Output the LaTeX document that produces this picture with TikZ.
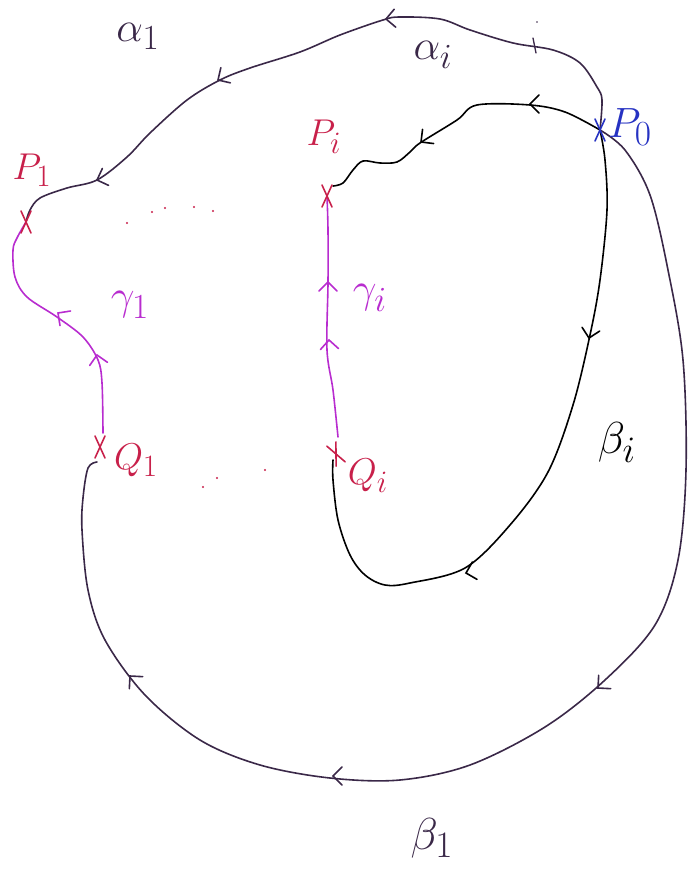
\documentclass[tikz,border=0pt]{standalone}
\usepackage{graphicx}
\usetikzlibrary{calc}
\definecolor{dpurp}{HTML}{3A2848}
\definecolor{mag}{HTML}{B82CCF}
\definecolor{crim}{HTML}{C8204A}
\definecolor{bleu}{HTML}{2632C2}
\newcommand{\biglbl}[2]{\scalebox{#1}{\Huge$#2$}}
\tikzset{
  curve/.style={line width=1.6pt, line cap=round, line join=round},
  chev/.pic={\draw[line width=1.6pt,line cap=round,pic actions] (-9,-9) -- (0,0) -- (-9,9);},
  cross/.pic={\draw[line width=1.6pt,line cap=round,pic actions] (-5,-11) -- (5,11) (-5,11) -- (5,-11);},
  lab/.style={inner sep=0pt}
}
\begin{document}
\begin{tikzpicture}[x=1pt,y=-1pt]
\useasboundingbox (0,0) rectangle (688,875);
% points
\coordinate (P0) at (600,130);
\coordinate (P1) at (26,222);
\coordinate (Pi) at (327,196);
\coordinate (Q1) at (100,447);
\coordinate (Qi) at (336,454);
% outer top curve alpha_1
\draw[curve,dpurp] plot[smooth,tension=0.55] coordinates {(P0) (602,100) (597,87) (580,63) (553,50) (513,43) (470,30) (440,19) (400,17) (383,20) (340,35) (300,52) (250,68) (220,80) (187,100) (150,133) (127,157) (97,180) (67,188) (40,198) (30,210) (P1)};
\draw[line width=1.3pt,line cap=round,dpurp] (533,38) -- (536,53);
\fill[dpurp] (537,22) circle (0.9);
% outer big curve beta_1
\draw[curve,dpurp] plot[smooth,tension=0.55] coordinates {(P0) (625,150) (650,195) (668,270) (683,360) (686,470) (678,560) (655,625) (605,680) (545,727) (470,765) (400,780) (330,778) (260,765) (200,740) (145,695) (105,640) (88,590) (82,530) (83,498) (88,468) (97,462)};
% inner loop
\draw[curve,black] plot[smooth,tension=0.55] coordinates {(P0) (565,112) (530,105) (477,105) (457,120) (420,143) (410,152) (397,162) (380,163) (363,161) (353,170) (343,183) (333,186)};
\draw[curve,black] plot[smooth,tension=0.55] coordinates {(P0) (605,160) (607,210) (600,280) (590,335) (573,405) (548,472) (510,525) (465,568) (410,583) (385,585) (365,575) (350,555) (338,520) (333,480) (333,460)};
% gamma curves
\draw[curve,mag] plot[smooth,tension=0.55] coordinates {(103,433) (102,383) (98,360) (83,337) (57,317) (27,297) (15,277) (13,250) (17,238) (P1)};
\draw[curve,mag] plot[smooth,tension=0.55] coordinates {(338,437) (333,390) (327,350) (328,283) (328,230) (Pi)};
% arrow chevrons
\pic[dpurp,rotate=185] at (386,19) {chev};
\pic[dpurp,rotate=212] at (218,80) {chev};
\pic[dpurp,rotate=200] at (97,180) {chev};
\pic[black,rotate=180] at (530,104) {chev};
\pic[black,rotate=218] at (421,142) {chev};
\pic[black,rotate=258] at (589,338) {chev};
\pic[black,rotate=195] at (466,573) {chev};
\pic[dpurp,rotate=222] at (598,688) {chev};
\pic[dpurp,rotate=180] at (333,776) {chev};
\pic[dpurp,rotate=132] at (130,676) {chev};
\pic[mag,rotate=100] at (97,355) {chev};
\pic[mag,rotate=144] at (58,313) {chev};
\pic[mag,rotate=93] at (329,340) {chev};
\pic[mag,rotate=90] at (328,282) {chev};
% crosses
\pic[crim] at (P1) {cross};
\pic[crim] at (Q1) {cross};
\pic[crim] at (Pi) {cross};
\pic[crim,rotate=25] at (Qi) {cross};
\pic[bleu] at (P0) {cross};
% dots
\foreach \p in {(127,223),(152,212),(165,208),(194,207),(213,211),(203,487),(217,478),(265,470)}
  \fill[crim] \p circle (1.1);
% labels
\node[lab,dpurp] (la1) at (138,36) {\biglbl{1.7}{\alpha_1}};
\node[lab,dpurp] (lai) at (433,55) {\biglbl{1.7}{\alpha_i}};
\node[lab,bleu] (lP0) at (630,127) {\biglbl{1.7}{P_0}};
\node[lab,crim] (lP1) at (32,170) {\biglbl{1.5}{P_1}};
\node[lab,crim] (lPi) at (324,137) {\biglbl{1.5}{P_i}};
\node[lab,mag] (lg1) at (130,305) {\biglbl{1.7}{\gamma_1}};
\node[lab,mag] (lgi) at (370,298) {\biglbl{1.7}{\gamma_i}};
\node[lab,crim] (lQ1) at (136,460) {\biglbl{1.5}{Q_1}};
\node[lab,crim] (lQi) at (368,476) {\biglbl{1.5}{Q_i}};
\node[lab,black] (lbi) at (617,442) {\biglbl{1.8}{\beta_i}};
\node[lab,dpurp] (lb1) at (432,838) {\biglbl{1.8}{\beta_1}};
\end{tikzpicture}
\end{document}
